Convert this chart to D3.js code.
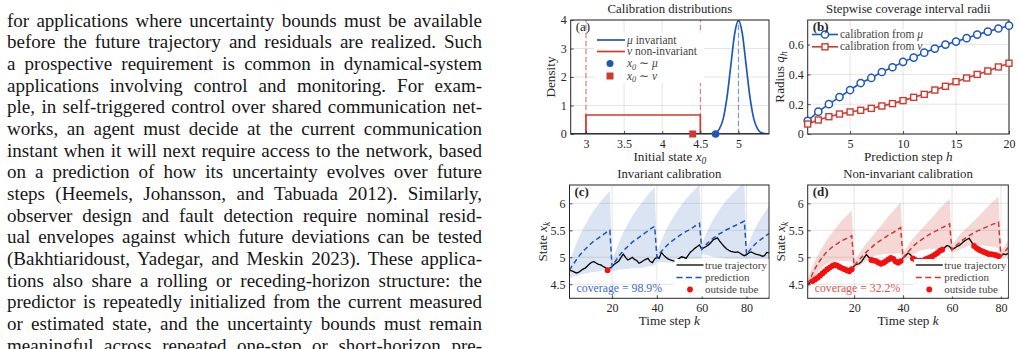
<!DOCTYPE html>
<html>
<head>
<meta charset="utf-8">
<script src="https://cdn.jsdelivr.net/npm/d3@7"></script>
<style>
  body { margin: 0; background: #fff; }
  svg { display: block; }
</style>
</head>
<body>
<div id="chart"></div>
<script>
// ---- paragraph text (left column) ----
var paragraph = [
  "for applications where uncertainty bounds must be available",
  "before the future trajectory and residuals are realized. Such",
  "a prospective requirement is common in dynamical-system",
  "applications involving control and monitoring. For exam-",
  "ple, in self-triggered control over shared communication net-",
  "works, an agent must decide at the current communication",
  "instant when it will next require access to the network, based",
  "on a prediction of how its uncertainty evolves over future",
  "steps (Heemels, Johansson, and Tabuada 2012). Similarly,",
  "observer design and fault detection require nominal resid-",
  "ual envelopes against which future deviations can be tested",
  "(Bakhtiaridoust, Yadegar, and Meskin 2023). These applica-",
  "tions also share a rolling or receding-horizon structure: the",
  "predictor is repeatedly initialized from the current measured",
  "or estimated state, and the uncertainty bounds must remain",
  "meaningful across repeated one-step or short-horizon pre-"
];

// ---- (a) calibration distributions ----
var uniformX = [2.8, 3, 3, 4.5, 4.5, 5.4];
var uniformY = [0, 0, 0.667, 0.667, 0, 0];
var gaussX = [2.8, 4.6, 4.65, 4.7, 4.75, 4.8, 4.85, 4.9, 4.95, 5.0, 5.05, 5.1, 5.15, 5.2, 5.25, 5.3, 5.35, 5.4];
var gaussY = [0, 0, 0.01, 0.04, 0.18, 0.54, 1.30, 2.42, 3.52, 3.99, 3.52, 2.42, 1.30, 0.54, 0.18, 0.04, 0.01, 0];
var nuSupport = [3, 4.5];
var muMean = 5;
var sampleMu = 4.7, sampleNu = 4.4;

// ---- (b) stepwise radii ----
var steps = d3.range(1, 21);
var radiusMu = [0.089, 0.150, 0.200, 0.248, 0.295, 0.342, 0.376, 0.416, 0.448, 0.484,
                0.513, 0.546, 0.573, 0.600, 0.620, 0.643, 0.667, 0.687, 0.708, 0.727];
var radiusNu = [0.067, 0.094, 0.116, 0.134, 0.148, 0.159, 0.172, 0.188, 0.204, 0.224,
                0.246, 0.266, 0.295, 0.320, 0.351, 0.376, 0.400, 0.423, 0.450, 0.475];

// ---- (c) invariant calibration, k = 1..90 ----
var trueC = [4.76,4.75,4.73,4.71,4.72,4.75,4.78,4.80,4.84,4.88,4.91,4.92,4.89,4.87,4.86,4.83,4.81,4.76,4.80,4.83,
             4.87,4.90,4.93,5.00,5.06,5.00,4.95,4.97,5.00,4.96,4.94,4.89,4.91,4.94,4.96,4.98,4.92,4.90,4.97,5.00,
             4.98,5.09,5.04,5.00,4.97,4.95,4.94,4.93,4.96,4.98,5.01,5.00,4.98,5.04,5.10,5.13,5.17,5.20,5.23,5.15,
             5.18,5.20,5.23,5.27,5.32,5.34,5.36,5.30,5.25,5.20,5.16,5.13,5.11,5.10,5.09,5.10,5.08,5.05,5.03,5.05,
             5.08,5.10,5.08,5.06,5.05,5.04,5.02,5.03,5.09,5.08];
var predC = [4.76,4.83,4.89,4.95,5.01,5.06,5.11,5.15,5.19,5.23,5.27,5.30,5.33,5.36,5.39,5.42,5.45,5.48,5.50,
             4.83,4.90,4.96,5.02,5.07,5.12,5.16,5.20,5.24,5.28,5.31,5.34,5.37,5.40,5.43,5.46,5.49,5.52,5.55,5.57,
             5.00,5.06,5.11,5.16,5.20,5.24,5.28,5.31,5.34,5.37,5.40,5.43,5.45,5.48,5.50,5.53,5.55,5.58,5.60,5.63,
             5.15,5.20,5.24,5.28,5.32,5.35,5.38,5.41,5.44,5.46,5.49,5.51,5.53,5.55,5.57,5.59,5.61,5.63,5.65,5.67,
             5.05,5.11,5.16,5.21,5.25,5.29,5.32,5.35,5.38,5.41,5.44];
var coverageC = "98.9%";

// ---- (d) non-invariant calibration, k = 1..83 ----
var trueD = [4.50,4.53,4.56,4.59,4.62,4.66,4.70,4.74,4.78,4.81,4.84,4.86,4.85,4.82,4.80,4.78,4.76,4.74,4.78,4.84,
             4.87,4.88,4.92,4.99,5.05,5.00,4.95,4.94,4.93,4.90,4.88,4.90,4.93,4.96,4.99,4.97,4.92,4.90,4.93,4.99,
             5.03,5.08,5.05,4.98,4.95,4.93,4.94,4.93,4.96,4.98,5.00,5.02,5.05,5.08,5.12,5.14,5.18,5.22,5.20,5.14,
             5.17,5.20,5.22,5.26,5.30,5.33,5.35,5.28,5.21,5.17,5.14,5.12,5.10,5.08,5.06,5.06,5.05,5.04,5.02,5.02,
             5.06,5.05,5.07];
var predD = [4.50,4.60,4.70,4.79,4.87,4.94,5.00,5.06,5.11,5.15,5.19,5.22,5.25,5.28,5.31,5.33,5.35,5.37,5.40,
             4.84,4.90,4.95,5.00,5.05,5.10,5.14,5.18,5.22,5.26,5.29,5.32,5.35,5.38,5.41,5.44,5.46,5.49,5.52,5.55,
             4.99,5.05,5.10,5.15,5.20,5.24,5.28,5.31,5.34,5.37,5.40,5.43,5.45,5.48,5.50,5.53,5.55,5.57,5.59,5.62,
             5.14,5.19,5.23,5.27,5.31,5.34,5.37,5.40,5.43,5.45,5.48,5.50,5.52,5.54,5.56,5.58,5.60,5.62,5.63,5.65,
             5.02,5.08,5.13,5.18];
var coverageD = "32.2%";
var resetEvery = 20;

// ticks
var aXTicks = [3, 3.5, 4, 4.5, 5], aYTicks = [0, 1, 2, 3, 4];
var bXTicks = [5, 10, 15, 20], bYTicks = [0, 0.2, 0.4, 0.6];
var timeTicks = [20, 40, 60, 80], stateTicks = [4.5, 5, 5.5, 6];

// colours
var blue = "#1f57b8", red = "#cf3a30", ink = "#262626";
var serif = "'Liberation Serif', 'Times New Roman', serif";

var svg = d3.select("#chart").append("svg")
  .attr("width", 1019)
  .attr("height", 349);

// ---------- paragraph ----------
var textLeft = 7, textRight = 482, firstBase = 26.7, lineGap = 21.67;
var para = svg.append("g").attr("font-family", serif).attr("fill", "#161616");
var fs = 19;
var rows = para.selectAll("text").data(paragraph).join("text")
  .attr("x", textLeft)
  .attr("y", function(d, i) { return firstBase + i * lineGap; })
  .attr("font-size", fs)
  .text(function(d) { return d; });
var widest = d3.max(rows.nodes(), function(n) { return n.getComputedTextLength(); });
if (widest > textRight - textLeft - 4) {
  fs = fs * (textRight - textLeft - 4) / widest;
  rows.attr("font-size", fs);
}
rows.each(function(d) {
  var w = this.getComputedTextLength();
  var gaps = d.split(" ").length - 1;
  d3.select(this).style("word-spacing", ((textRight - textLeft - w) / gaps) + "px");
});

// ---------- panel helper ----------
function makePanel(p) {
  var x = d3.scaleLinear().domain(p.xDomain).range([p.left, p.right]);
  var y = d3.scaleLinear().domain(p.yDomain).range([p.bottom, p.top]);
  var g = svg.append("g").attr("font-family", serif).attr("font-size", 11.5).attr("fill", ink);
  var id = "clip-" + p.name;
  g.append("clipPath").attr("id", id).append("rect")
    .attr("x", p.left).attr("y", p.top)
    .attr("width", p.right - p.left).attr("height", p.bottom - p.top);

  var under = g.append("g").attr("clip-path", "url(#" + id + ")");
  var grid = g.append("g").attr("stroke", ink).attr("stroke-opacity", 0.15).attr("stroke-width", 0.8);
  grid.selectAll(".vx").data(p.xTicks).join("line")
    .attr("x1", x).attr("x2", x).attr("y1", p.top).attr("y2", p.bottom);
  grid.selectAll(".hy").data(p.yTicks).join("line")
    .attr("y1", y).attr("y2", y).attr("x1", p.left).attr("x2", p.right);
  var plot = g.append("g").attr("clip-path", "url(#" + id + ")");

  var xAxis = g.append("g").attr("transform", "translate(0," + p.bottom + ")")
    .call(d3.axisBottom(x).tickValues(p.xTicks).tickSizeInner(-3).tickSizeOuter(0)
      .tickPadding(5).tickFormat(d3.format("~g")));
  var yAxis = g.append("g").attr("transform", "translate(" + p.left + ",0)")
    .call(d3.axisLeft(y).tickValues(p.yTicks).tickSizeInner(-3).tickSizeOuter(0)
      .tickPadding(4).tickFormat(d3.format("~g")));
  [xAxis, yAxis].forEach(function(a) {
    a.select(".domain").remove();
    a.attr("font-family", serif).attr("font-size", 12);
    a.selectAll(".tick line").attr("stroke", ink).attr("stroke-width", 0.8);
    a.selectAll(".tick text").attr("fill", ink);
  });

  var top = g.append("g");
  top.append("rect")
    .attr("x", p.left).attr("y", p.top)
    .attr("width", p.right - p.left).attr("height", p.bottom - p.top)
    .attr("fill", "none").attr("stroke", ink).attr("stroke-width", 1);

  g.append("text").attr("x", (p.left + p.right) / 2).attr("y", p.top - 7)
    .attr("text-anchor", "middle").attr("font-size", 12.8).text(p.title);
  var xl = g.append("text").attr("x", (p.left + p.right) / 2).attr("y", p.bottom + 26.5)
    .attr("text-anchor", "middle").attr("font-size", 13.2);
  p.xLabel(xl);
  var yl = g.append("text")
    .attr("transform", "translate(" + p.yLabelX + "," + (p.top + p.bottom) / 2 + ") rotate(-90)")
    .attr("text-anchor", "middle").attr("font-size", 13.2);
  p.yLabel(yl);
  var tagLayer = g.append("g");

  return { g: g, x: x, y: y, under: under, plot: plot, top: top, tagLayer: tagLayer,
    tag: function() {
      tagLayer.append("text").attr("x", p.left + 5).attr("y", p.top + 10.5)
        .attr("font-size", 13).attr("font-weight", p.boldTag ? "bold" : "normal").text(p.tag);
    } };
}

// italic symbol with a trailing subscript
function mathSub(sel, base, sub) {
  sel.append("tspan").attr("font-style", "italic").text(base);
  sel.append("tspan").attr("font-style", "italic").attr("font-size", "0.72em").attr("dy", 3).text(sub);
}

// ---------- (a) ----------
var pa = makePanel({
  name: "a", left: 570.7, right: 769, top: 20, bottom: 134,
  xDomain: [2.8, 5.4], yDomain: [0, 4], xTicks: aXTicks, yTicks: aYTicks,
  title: "Calibration distributions", tag: "(a)", boldTag: false, yLabelX: 555,
  xLabel: function(t) { t.append("tspan").text("Initial state "); mathSub(t, "x", "0"); },
  yLabel: function(t) { t.text("Density"); }
});
pa.plot.selectAll(".nuEdge").data(nuSupport).join("line")
  .attr("x1", pa.x).attr("x2", pa.x).attr("y1", pa.y(0)).attr("y2", pa.y(4))
  .attr("stroke", red).attr("stroke-opacity", 0.7).attr("stroke-width", 1)
  .attr("stroke-dasharray", "5,3");
pa.plot.append("line")
  .attr("x1", pa.x(muMean)).attr("x2", pa.x(muMean)).attr("y1", pa.y(0)).attr("y2", pa.y(4))
  .attr("stroke", blue).attr("stroke-opacity", 0.55).attr("stroke-width", 1.2)
  .attr("stroke-dasharray", "5,3");
var lineA = d3.line().x(function(d) { return pa.x(d[0]); }).y(function(d) { return pa.y(d[1]); });
pa.plot.append("path").datum(d3.zip(uniformX, uniformY)).attr("d", lineA)
  .attr("fill", "none").attr("stroke", red).attr("stroke-width", 1.7);
pa.plot.append("path").datum(d3.zip(gaussX, gaussY)).attr("d", lineA.curve(d3.curveMonotoneX))
  .attr("fill", "none").attr("stroke", blue).attr("stroke-width", 1.7);
// both densities overlap along zero
pa.plot.append("line").attr("x1", pa.x(2.8)).attr("x2", pa.x(5.4)).attr("y1", pa.y(0)).attr("y2", pa.y(0))
  .attr("stroke", "#1c2f5e").attr("stroke-width", 1.7);
pa.top.append("rect").attr("x", pa.x(sampleNu) - 3.5).attr("y", pa.y(0) - 3.5)
  .attr("width", 7).attr("height", 7).attr("fill", red);
pa.top.append("circle").attr("cx", pa.x(sampleMu)).attr("cy", pa.y(0)).attr("r", 3.8).attr("fill", blue);

// legend (a)
var lgA = pa.top.append("g");
lgA.append("rect").attr("x", 594).attr("y", 33).attr("width", 110).attr("height", 50).attr("fill", "#fff");
var legA = [
  { kind: "line", color: blue, label: ["μ", " invariant"] },
  { kind: "line", color: red, label: ["ν", " non-invariant"] },
  { kind: "dot", color: blue, label: ["x", "0", " ∼ ", "μ"] },
  { kind: "sq", color: red, label: ["x", "0", " ∼ ", "ν"] }
];
var legAY = [40, 51.5, 63.5, 76];
legA.forEach(function(e, i) {
  var yy = legAY[i];
  if (e.kind === "line") {
    lgA.append("line").attr("x1", 597).attr("x2", 625).attr("y1", yy).attr("y2", yy)
      .attr("stroke", e.color).attr("stroke-width", 1.7);
  } else if (e.kind === "dot") {
    lgA.append("circle").attr("cx", 610).attr("cy", yy).attr("r", 3.5).attr("fill", e.color);
  } else {
    lgA.append("rect").attr("x", 606.5).attr("y", yy - 3.5).attr("width", 7).attr("height", 7).attr("fill", e.color);
  }
  var t = lgA.append("text").attr("x", 627).attr("y", yy + 3.5).attr("font-size", 11.5).attr("fill", "#444");
  if (e.label.length === 2) {
    t.append("tspan").attr("font-style", "italic").text(e.label[0]);
    t.append("tspan").text(e.label[1]);
  } else {
    t.append("tspan").attr("font-style", "italic").text(e.label[0]);
    t.append("tspan").attr("font-style", "italic").attr("font-size", "0.72em").attr("dy", 2.5).text(e.label[1]);
    t.append("tspan").attr("dy", -2.5).text(e.label[2]);
    t.append("tspan").attr("font-style", "italic").text(e.label[3]);
  }
});
pa.tag();

// ---------- (b) ----------
var pb = makePanel({
  name: "b", left: 807.7, right: 1009, top: 20, bottom: 134,
  xDomain: [1, 20], yDomain: [0, 0.765], xTicks: bXTicks, yTicks: bYTicks,
  title: "Stepwise coverage interval radii", tag: "(b)", boldTag: true, yLabelX: 784,
  xLabel: function(t) { t.append("tspan").text("Prediction step "); t.append("tspan").attr("font-style", "italic").text("h"); },
  yLabel: function(t) { t.append("tspan").text("Radius "); mathSub(t, "q", "h"); }
});
var lgB = pb.top.append("g");
lgB.append("rect").attr("x", 810).attr("y", 29.5).attr("width", 112).attr("height", 21.5).attr("fill", "#fff");
var lineB = d3.line().x(function(d) { return pb.x(d[0]); }).y(function(d) { return pb.y(d[1]); });
pb.top.append("path").datum(d3.zip(steps, radiusMu)).attr("d", lineB)
  .attr("fill", "none").attr("stroke", blue).attr("stroke-width", 1.6);
pb.top.append("path").datum(d3.zip(steps, radiusNu)).attr("d", lineB)
  .attr("fill", "none").attr("stroke", red).attr("stroke-width", 1.6);
pb.top.selectAll(".mu").data(d3.zip(steps, radiusMu)).join("circle")
  .attr("cx", function(d) { return pb.x(d[0]); }).attr("cy", function(d) { return pb.y(d[1]); })
  .attr("r", 3.6).attr("fill", "#fff").attr("stroke", blue).attr("stroke-width", 1.5);
pb.top.selectAll(".nu").data(d3.zip(steps, radiusNu)).join("rect")
  .attr("x", function(d) { return pb.x(d[0]) - 3; }).attr("y", function(d) { return pb.y(d[1]) - 3; })
  .attr("width", 6).attr("height", 6).attr("fill", "#fff").attr("stroke", red).attr("stroke-width", 1.4);

var lgB2 = pb.top.append("g");
[{ c: blue, s: "μ", m: "o" }, { c: red, s: "ν", m: "s" }].forEach(function(e, i) {
  var yy = 34.5 + i * 12.3;
  lgB2.append("line").attr("x1", 812).attr("x2", 838).attr("y1", yy).attr("y2", yy)
    .attr("stroke", e.c).attr("stroke-width", 1.6);
  if (e.m === "o") {
    lgB2.append("circle").attr("cx", 825).attr("cy", yy).attr("r", 3.6)
      .attr("fill", "#fff").attr("stroke", e.c).attr("stroke-width", 1.5);
  } else {
    lgB2.append("rect").attr("x", 822).attr("y", yy - 3).attr("width", 6).attr("height", 6)
      .attr("fill", "#fff").attr("stroke", e.c).attr("stroke-width", 1.4);
  }
  var t = lgB2.append("text").attr("x", 840).attr("y", yy + 3.5).attr("font-size", 11.5).attr("fill", "#444");
  t.append("tspan").text("calibration from ");
  t.append("tspan").attr("font-style", "italic").text(e.s);
});
pb.tag();

// ---------- (c), (d) ----------
function trajectoryPanel(opt) {
  var p = makePanel({
    name: opt.name, left: opt.left, right: opt.right, top: 185, bottom: 298.3,
    xDomain: opt.xDomain, yDomain: [4.24, 6.34], xTicks: timeTicks, yTicks: stateTicks,
    title: opt.title, tag: opt.tag, boldTag: true, yLabelX: opt.left - 23,
    xLabel: function(t) { t.append("tspan").text("Time step "); t.append("tspan").attr("font-style", "italic").text("k"); },
    yLabel: function(t) { t.append("tspan").text("State "); mathSub(t, "x", "k"); }
  });
  var rows = opt.truth.map(function(v, i) {
    var k = i + 1;
    var h = (k % resetEvery) + 1;
    var q = opt.radius[h - 1];
    var pr = opt.pred[i];
    return { k: k, x: v, p: pr, lo: pr - q, hi: pr + q, out: v < pr - q || v > pr + q };
  });
  p.under.append("path").datum(rows)
    .attr("d", d3.area().x(function(d) { return p.x(d.k); })
      .y0(function(d) { return p.y(d.lo); }).y1(function(d) { return p.y(d.hi); }))
    .attr("fill", opt.band);
  p.plot.append("path").datum(rows)
    .attr("d", d3.line().x(function(d) { return p.x(d.k); }).y(function(d) { return p.y(d.x); }))
    .attr("fill", "none").attr("stroke", "#000").attr("stroke-width", 1.3);
  p.plot.append("path").datum(rows)
    .attr("d", d3.line().x(function(d) { return p.x(d.k); }).y(function(d) { return p.y(d.p); }))
    .attr("fill", "none").attr("stroke", opt.color).attr("stroke-width", 1.5)
    .attr("stroke-dasharray", "5,3.2");
  p.top.selectAll(".out").data(rows.filter(function(d) { return d.out; })).join("circle")
    .attr("cx", function(d) { return p.x(d.k); }).attr("cy", function(d) { return p.y(d.x); })
    .attr("r", 2.9).attr("fill", "#f50f0f");

  // legend
  var lg = p.top.append("g");
  var lx = opt.right - 92.5;
  lg.append("rect").attr("x", lx - 2).attr("y", 259).attr("width", 94).attr("height", 37.5).attr("fill", "#fff");
  lg.append("line").attr("x1", lx).attr("x2", lx + 27).attr("y1", 265).attr("y2", 265)
    .attr("stroke", "#000").attr("stroke-width", 1.3);
  lg.append("line").attr("x1", lx).attr("x2", lx + 27).attr("y1", 277.5).attr("y2", 277.5)
    .attr("stroke", opt.color).attr("stroke-width", 1.5).attr("stroke-dasharray", "6,3.5");
  lg.append("circle").attr("cx", lx + 13.5).attr("cy", 289.5).attr("r", 2.9).attr("fill", "#f50f0f");
  ["true trajectory", "prediction", "outside tube"].forEach(function(s, i) {
    lg.append("text").attr("x", lx + 28.5).attr("y", 268.5 + i * 12.1).attr("font-size", 11)
      .attr("fill", "#444").text(s);
  });
  p.top.append("text").attr("x", opt.left + 7).attr("y", 291.5).attr("font-size", 11.8)
    .attr("fill", opt.textColor).text("coverage = " + opt.coverage);
  p.tag();
  return p;
}

trajectoryPanel({
  name: "c", left: 569.5, right: 769, xDomain: [1, 90], title: "Invariant calibration", tag: "(c)",
  truth: trueC, pred: predC, radius: radiusMu, color: blue, band: "#dbe4f2",
  textColor: "#3d6cc7", coverage: coverageC
});
trajectoryPanel({
  name: "d", left: 807.7, right: 1008.3, xDomain: [1, 83], title: "Non-invariant calibration", tag: "(d)",
  truth: trueD, pred: predD, radius: radiusNu, color: red, band: "#f5d8d6",
  textColor: "#e0544b", coverage: coverageD
});
</script>
</body>
</html>
